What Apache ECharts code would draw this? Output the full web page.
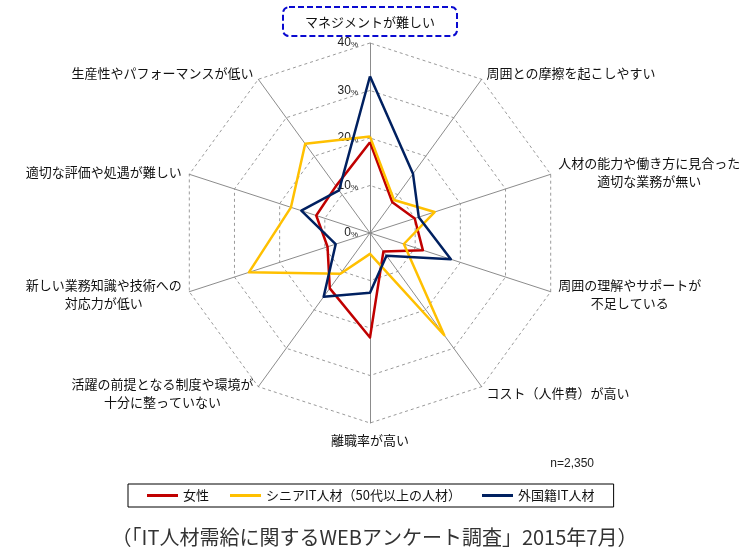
<!DOCTYPE html>
<html>
<head>
<meta charset="utf-8">
<script src="https://cdn.jsdelivr.net/npm/echarts@6/dist/echarts.min.js"></script>
<style>
html,body{margin:0;padding:0;background:#fff;}
#chart{width:749px;height:552px;}
</style>
</head>
<body>
<div id="chart"></div>
<script>
// Categories listed counter-clockwise from the top (ECharts radar order)
var categories = [
  'マネジメントが難しい',
  '生産性やパフォーマンスが低い',
  '適切な評価や処遇が難しい',
  '新しい業務知識や技術への\n対応力が低い',
  '活躍の前提となる制度や環境が\n十分に整っていない',
  '離職率が高い',
  'コスト（人件費）が高い',
  '周囲の理解やサポートが\n不足している',
  '人材の能力や働き方に見合った\n適切な業務が無い',
  '周囲との摩擦を起こしやすい'
];
var seriesNames = ['女性', 'シニアIT人材（50代以上の人材）', '外国籍IT人材'];
var women  = [19.1, 12.2, 11.9, 9.4, 14.4, 22.0, 4.8, 11.7, 9.9, 8.0];
var senior = [20.3, 23.2, 17.5, 26.8, 10.6, 4.4, 26.6, 7.5, 14.3, 8.6];
var foreign = [33.0, 11.1, 15.2, 7.6, 16.6, 12.6, 5.9, 17.9, 10.8, 15.4];
var axisMax = 40;
var noteText = 'n=2,350';
var sourceText = '（「IT人材需給に関するWEBアンケート調査」2015年7月）';

var FONT = '"Noto Sans CJK JP", "Noto Sans", sans-serif';
var LATIN = '"Liberation Sans", Arial, sans-serif';
var colors = ['#C00000', '#FFC000', '#002060'];

var chart = echarts.init(document.getElementById('chart'));

var indicators = categories.map(function (c, i) {
  var ind = { name: c, min: 0, max: axisMax };
  if (i === 0) {
    ind.nameGap = 3;
    ind.axisLabel = {
      show: true,
      showMinLabel: true,
      showMaxLabel: true,
      margin: 12,
      color: '#222',
      formatter: function (v) { return '{n|' + v + '}{p|%}'; },
      rich: {
        n: { fontSize: 12, fontFamily: LATIN, color: '#222' },
        p: { fontSize: 8, fontFamily: LATIN, color: '#222', verticalAlign: 'bottom', padding: [3, 0, 0, 0] }
      }
    };
  }
  return ind;
});

var option = {
  backgroundColor: '#fff',
  animation: false,
  color: colors,
  title: [
    { text: noteText, right: 155, top: 458, padding: 0,
      textStyle: { fontSize: 12, fontWeight: 'normal', color: '#222', fontFamily: LATIN } },
    { text: sourceText, left: 'center', top: 527, padding: 0,
      textStyle: { fontSize: 20, fontWeight: 'normal', color: '#333', fontFamily: FONT } }
  ],
  legend: {
    data: seriesNames,
    left: 128,
    top: 484,
    orient: 'horizontal',
    icon: 'rect',
    itemWidth: 31,
    itemHeight: 3,
    itemGap: 21,
    padding: [5, 19, 5, 19],
    borderColor: '#000',
    borderWidth: 1,
    borderRadius: 0,
    textStyle: { fontSize: 13, color: '#111', fontFamily: FONT }
  },
  radar: {
    center: [370, 233],
    radius: 190,
    startAngle: 90,
    splitNumber: 4,
    shape: 'polygon',
    nameGap: 8,
    indicator: indicators,
    axisName: {
      color: '#111',
      fontSize: 13,
      fontFamily: FONT,
      formatter: function (name, ind) {
        if (name === categories[0]) {
          return '{box|' + name + '}';
        }
        return name.split('\n').map(function (s) { return '{c|' + s + '}'; }).join('\n');
      },
      rich: {
        box: {
          fontSize: 13, color: '#111', fontFamily: FONT, lineHeight: 15,
          borderColor: '#0a0ad0', borderWidth: 2, borderType: [6, 3], borderRadius: 6,
          padding: [8, 22, 8, 22]
        },
        c: { align: 'center', fontSize: 13, color: '#111', fontFamily: FONT, lineHeight: 18 }
      }
    },
    axisLine: { lineStyle: { color: '#8c8c8c', width: 1 } },
    axisTick: { show: false },
    axisLabel: { show: false },
    splitLine: { lineStyle: { color: '#9a9a9a', width: 1, type: [3, 3] } },
    splitArea: { show: false }
  },
  series: [{
    type: 'radar',
    symbol: 'none',
    data: [
      { name: seriesNames[0], value: women, lineStyle: { color: colors[0], width: 2.5 }, itemStyle: { color: colors[0] } },
      { name: seriesNames[1], value: senior, lineStyle: { color: colors[1], width: 2.5 }, itemStyle: { color: colors[1] } },
      { name: seriesNames[2], value: foreign, lineStyle: { color: colors[2], width: 2.5 }, itemStyle: { color: colors[2] } }
    ]
  }]
};
chart.setOption(option);
</script>
</body>
</html>
